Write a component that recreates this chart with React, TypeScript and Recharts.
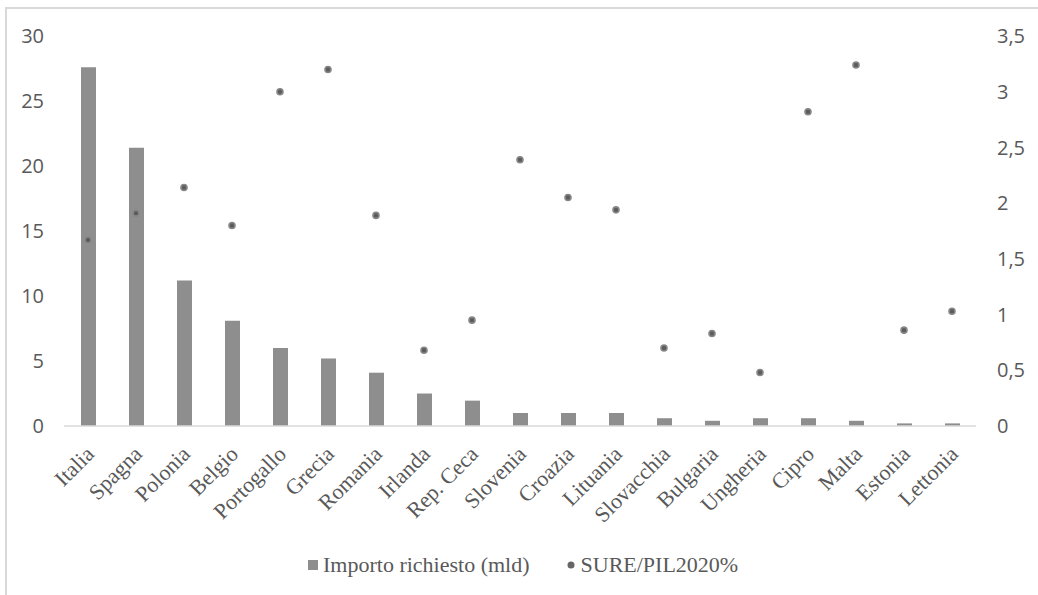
import React from 'react';
import { ComposedChart, Bar, Line, XAxis, YAxis } from 'recharts';

const paesi = [
  'Italia', 'Spagna', 'Polonia', 'Belgio', 'Portogallo', 'Grecia', 'Romania', 'Irlanda', 'Rep. Ceca',
  'Slovenia', 'Croazia', 'Lituania', 'Slovacchia', 'Bulgaria', 'Ungheria', 'Cipro', 'Malta', 'Estonia', 'Lettonia',
];
const importo = [27.6, 21.4, 11.2, 8.1, 6.0, 5.2, 4.1, 2.5, 1.95, 1.0, 1.0, 1.0, 0.6, 0.4, 0.6, 0.6, 0.4, 0.2, 0.2];
const surePil = [1.67, 1.91, 2.14, 1.8, 3.0, 3.2, 1.89, 0.68, 0.95, 2.39, 2.05, 1.94, 0.7, 0.83, 0.48, 2.82, 3.24, 0.86, 1.03];
const ticksSx = [0, 5, 10, 15, 20, 25, 30];
const ticksDx = [0, 0.5, 1, 1.5, 2, 2.5, 3, 3.5];

const data = paesi.map((p, i) => ({ paese: p, importo: importo[i], sure: surePil[i] }));

const BAR = '#8e8e8e';
const TXT = '#595959';
const SERIF = '"Liberation Serif", "DejaVu Serif", serif';

const XTick = (props: any) => {
  const { x, y, payload } = props;
  const ax = x + 2;
  const ay = y + 16;
  return (
    <text
      x={ax}
      y={ay}
      dy="0.35em"
      textAnchor="end"
      transform={`rotate(-45 ${ax} ${ay})`}
      fill={TXT}
      fontFamily={SERIF}
      fontSize={22}
    >
      {payload.value}
    </text>
  );
};

const Legenda = () => (
  <div
    style={{
      position: 'absolute',
      left: 308,
      top: 553,
      display: 'flex',
      alignItems: 'center',
      fontFamily: SERIF,
      fontSize: 22,
      color: TXT,
      lineHeight: '24px',
    }}
  >
    <span style={{ width: 10, height: 10, background: BAR, display: 'inline-block', marginRight: 5 }} />
    <span>Importo richiesto (mld)</span>
    <svg width={8} height={8} style={{ marginLeft: 37, marginRight: 6 }}>
      <circle cx={4} cy={4} r={3.5} fill="#666" />
    </svg>
    <span>SURE/PIL2020%</span>
  </div>
);

export default function App() {
  return (
    <div style={{ position: 'absolute', left: 0, top: 0, width: 1038, height: 595, overflow: 'hidden', background: '#fff' }}>
      <div
        style={{
          position: 'absolute',
          left: 5,
          top: 7,
          right: 0,
          bottom: 0,
          borderLeft: '2px solid #d9d9d9',
          borderTop: '2px solid #d9d9d9',
        }}
      />
      <div style={{ position: 'absolute', left: 0, top: 0 }}>
        <ComposedChart
          width={1038}
          height={595}
          data={data}
          margin={{ top: 36, right: 0, bottom: 0, left: 0 }}
        >
          <XAxis
            dataKey="paese"
            interval={0}
            tickLine={false}
            axisLine={{ stroke: '#d9d9d9', strokeWidth: 1.5 }}
            tick={<XTick />}
            height={169}
          />
          <YAxis
            yAxisId="left"
            orientation="left"
            width={64}
            domain={[0, 30]}
            ticks={ticksSx}
            axisLine={false}
            tickLine={false}
            tickSize={0}
            tickMargin={20}
            tick={{ fill: TXT, fontSize: 20, fontFamily: '"Open Sans", sans-serif' }}
          />
          <YAxis
            yAxisId="right"
            orientation="right"
            width={62}
            domain={[0, 3.5]}
            ticks={ticksDx}
            axisLine={false}
            tickLine={false}
            tickSize={0}
            tickMargin={21}
            tickFormatter={(v: number) => String(v).replace('.', ',')}
            tick={{ fill: TXT, fontSize: 20, fontFamily: '"Open Sans", sans-serif', textAnchor: 'start' }}
          />
          <Bar yAxisId="left" dataKey="importo" fill={BAR} barSize={15} isAnimationActive={false} />
          <Line
            yAxisId="right"
            dataKey="sure"
            stroke="none"
            dot={{ r: 3, fill: '#5c5c5c', stroke: '#888888', strokeWidth: 1.6 }}
            activeDot={false}
            isAnimationActive={false}
          />
        </ComposedChart>
      </div>
      <Legenda />
    </div>
  );
}
